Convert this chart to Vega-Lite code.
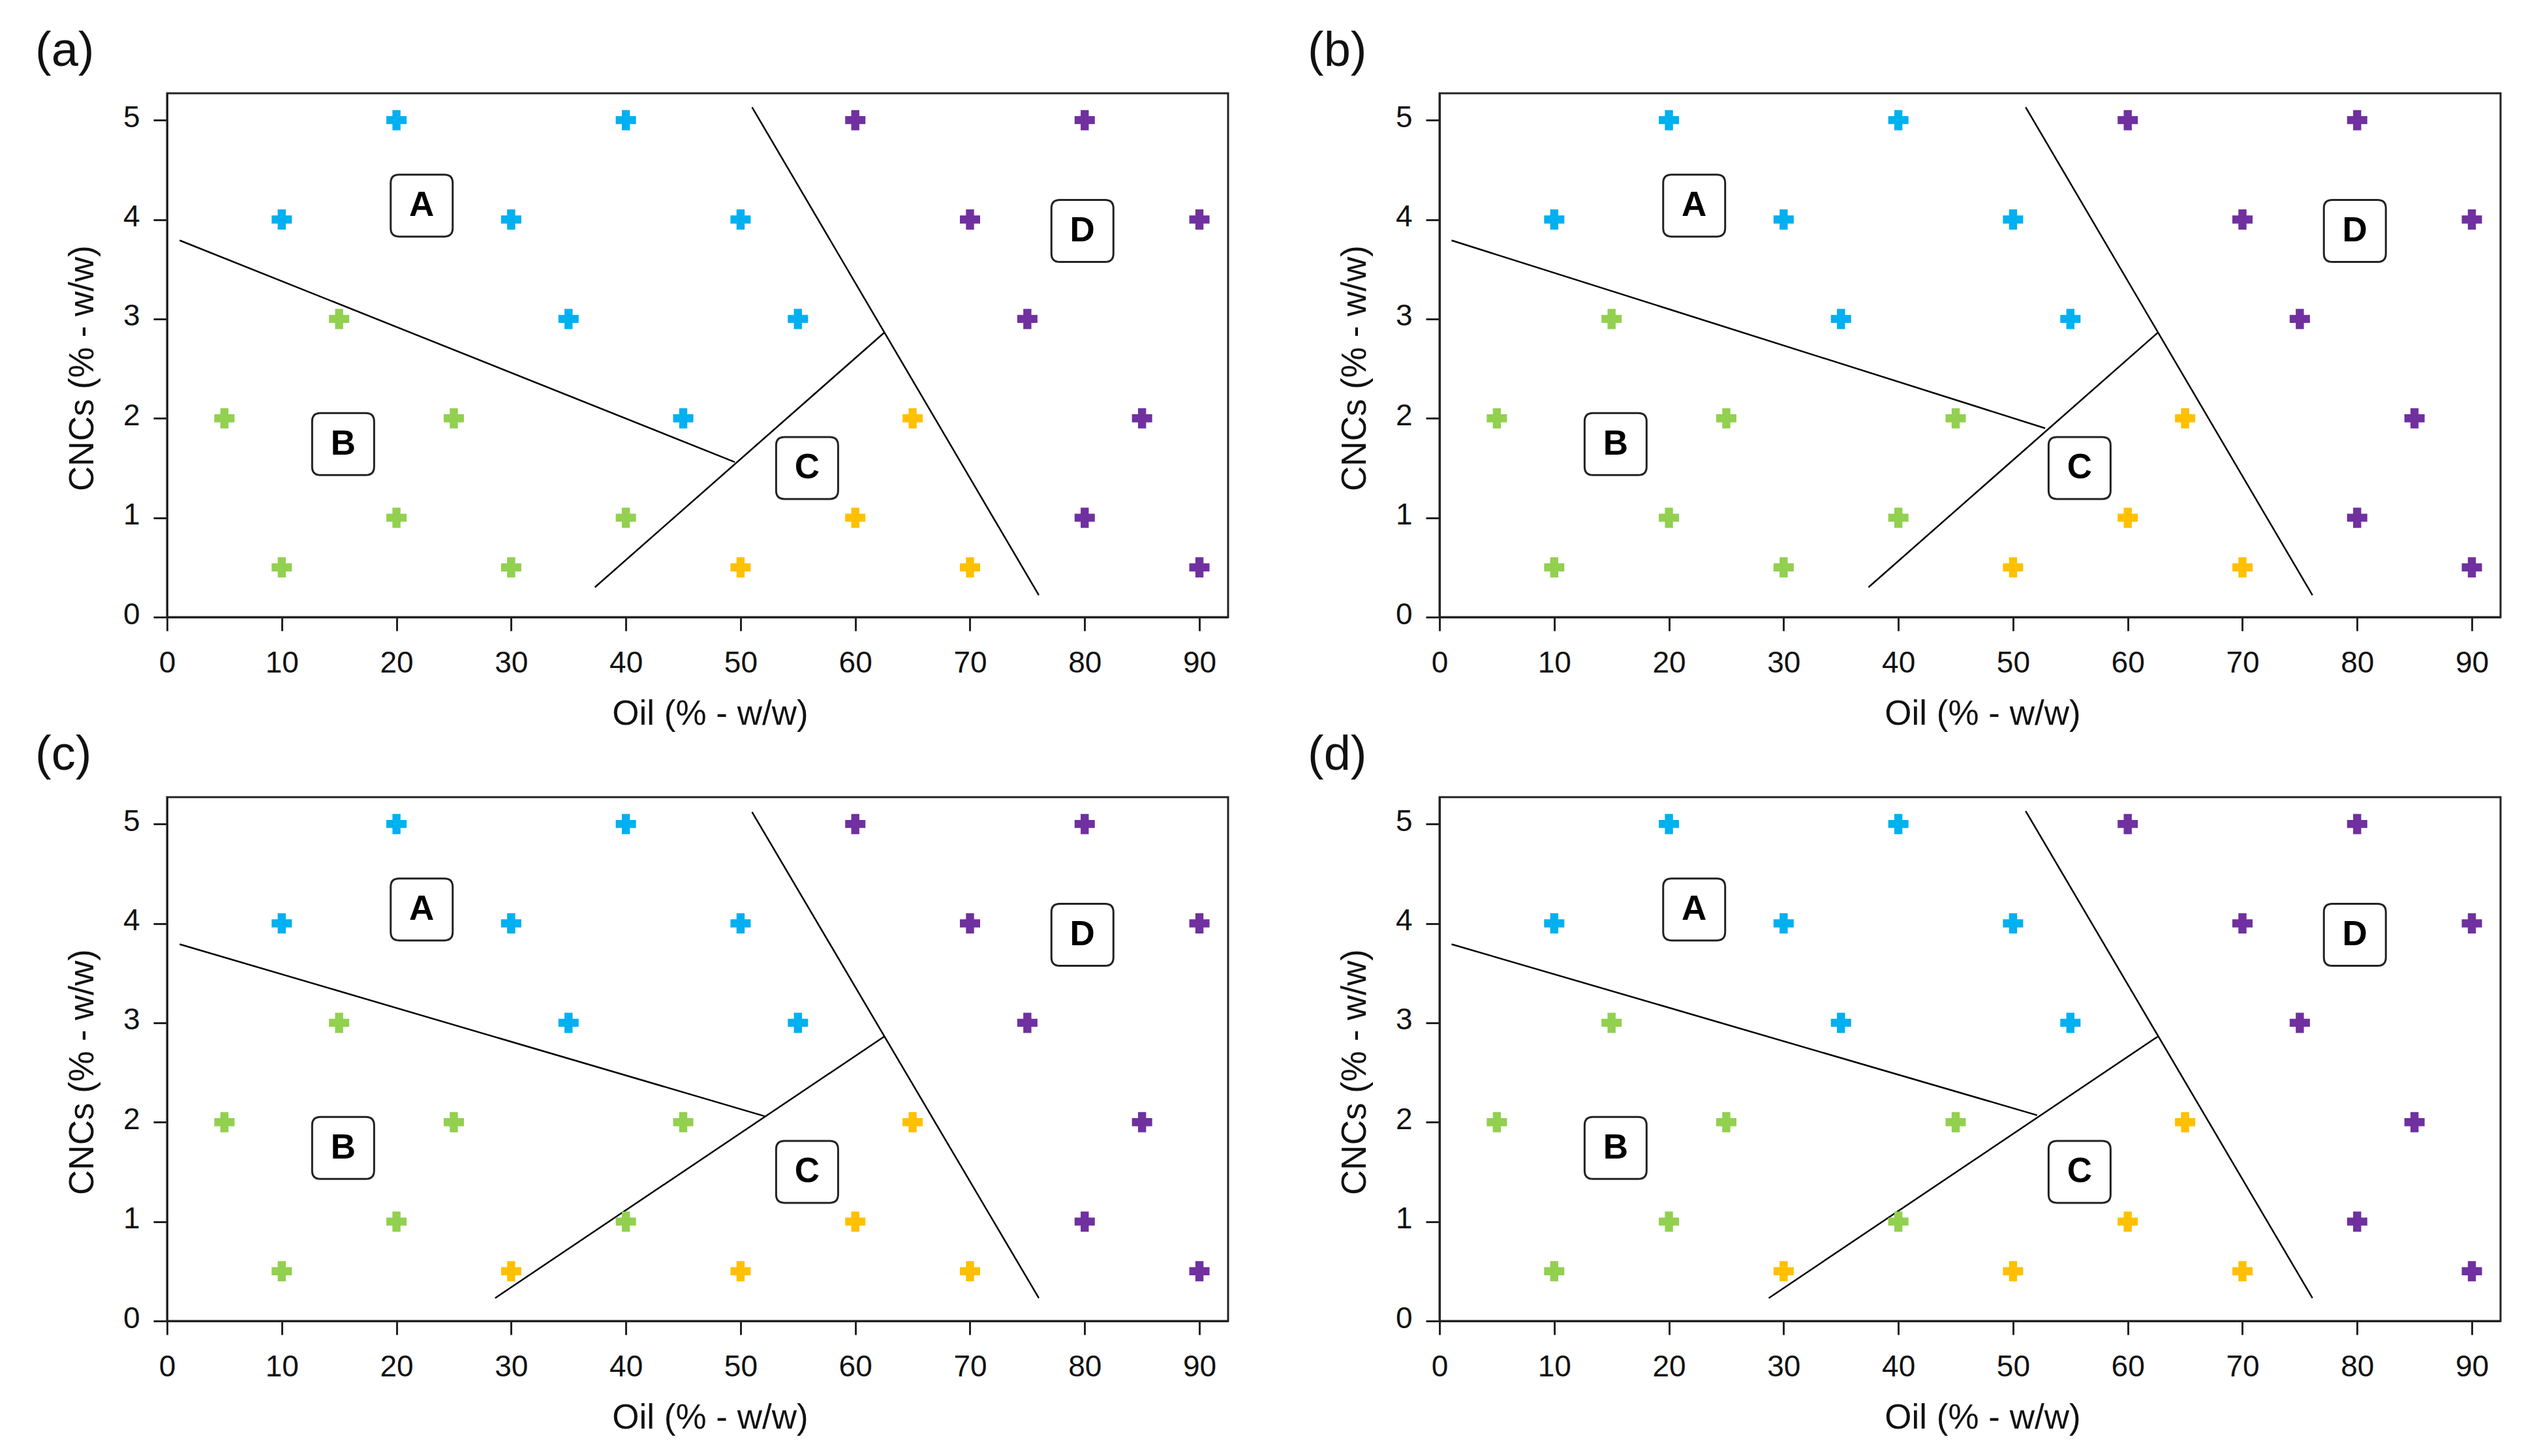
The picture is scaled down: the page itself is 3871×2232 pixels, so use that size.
{
  "$schema": "https://vega.github.io/schema/vega-lite/v6.json",
  "background": "white",
  "padding": {"left": 52, "top": 40, "right": 5, "bottom": 5},
  "datasets": {
    "points": [
      {"panel": "a", "oil": 20, "cnc": 5, "region": "A"},
      {"panel": "a", "oil": 40, "cnc": 5, "region": "A"},
      {"panel": "a", "oil": 10, "cnc": 4, "region": "A"},
      {"panel": "a", "oil": 30, "cnc": 4, "region": "A"},
      {"panel": "a", "oil": 50, "cnc": 4, "region": "A"},
      {"panel": "a", "oil": 35, "cnc": 3, "region": "A"},
      {"panel": "a", "oil": 55, "cnc": 3, "region": "A"},
      {"panel": "a", "oil": 45, "cnc": 2, "region": "A"},
      {"panel": "a", "oil": 15, "cnc": 3, "region": "B"},
      {"panel": "a", "oil": 5, "cnc": 2, "region": "B"},
      {"panel": "a", "oil": 25, "cnc": 2, "region": "B"},
      {"panel": "a", "oil": 20, "cnc": 1, "region": "B"},
      {"panel": "a", "oil": 40, "cnc": 1, "region": "B"},
      {"panel": "a", "oil": 10, "cnc": 0.5, "region": "B"},
      {"panel": "a", "oil": 30, "cnc": 0.5, "region": "B"},
      {"panel": "a", "oil": 65, "cnc": 2, "region": "C"},
      {"panel": "a", "oil": 60, "cnc": 1, "region": "C"},
      {"panel": "a", "oil": 50, "cnc": 0.5, "region": "C"},
      {"panel": "a", "oil": 70, "cnc": 0.5, "region": "C"},
      {"panel": "a", "oil": 60, "cnc": 5, "region": "D"},
      {"panel": "a", "oil": 80, "cnc": 5, "region": "D"},
      {"panel": "a", "oil": 70, "cnc": 4, "region": "D"},
      {"panel": "a", "oil": 90, "cnc": 4, "region": "D"},
      {"panel": "a", "oil": 75, "cnc": 3, "region": "D"},
      {"panel": "a", "oil": 85, "cnc": 2, "region": "D"},
      {"panel": "a", "oil": 80, "cnc": 1, "region": "D"},
      {"panel": "a", "oil": 90, "cnc": 0.5, "region": "D"},

      {"panel": "b", "oil": 20, "cnc": 5, "region": "A"},
      {"panel": "b", "oil": 40, "cnc": 5, "region": "A"},
      {"panel": "b", "oil": 10, "cnc": 4, "region": "A"},
      {"panel": "b", "oil": 30, "cnc": 4, "region": "A"},
      {"panel": "b", "oil": 50, "cnc": 4, "region": "A"},
      {"panel": "b", "oil": 35, "cnc": 3, "region": "A"},
      {"panel": "b", "oil": 55, "cnc": 3, "region": "A"},
      {"panel": "b", "oil": 45, "cnc": 2, "region": "B"},
      {"panel": "b", "oil": 15, "cnc": 3, "region": "B"},
      {"panel": "b", "oil": 5, "cnc": 2, "region": "B"},
      {"panel": "b", "oil": 25, "cnc": 2, "region": "B"},
      {"panel": "b", "oil": 20, "cnc": 1, "region": "B"},
      {"panel": "b", "oil": 40, "cnc": 1, "region": "B"},
      {"panel": "b", "oil": 10, "cnc": 0.5, "region": "B"},
      {"panel": "b", "oil": 30, "cnc": 0.5, "region": "B"},
      {"panel": "b", "oil": 65, "cnc": 2, "region": "C"},
      {"panel": "b", "oil": 60, "cnc": 1, "region": "C"},
      {"panel": "b", "oil": 50, "cnc": 0.5, "region": "C"},
      {"panel": "b", "oil": 70, "cnc": 0.5, "region": "C"},
      {"panel": "b", "oil": 60, "cnc": 5, "region": "D"},
      {"panel": "b", "oil": 80, "cnc": 5, "region": "D"},
      {"panel": "b", "oil": 70, "cnc": 4, "region": "D"},
      {"panel": "b", "oil": 90, "cnc": 4, "region": "D"},
      {"panel": "b", "oil": 75, "cnc": 3, "region": "D"},
      {"panel": "b", "oil": 85, "cnc": 2, "region": "D"},
      {"panel": "b", "oil": 80, "cnc": 1, "region": "D"},
      {"panel": "b", "oil": 90, "cnc": 0.5, "region": "D"},

      {"panel": "c", "oil": 20, "cnc": 5, "region": "A"},
      {"panel": "c", "oil": 40, "cnc": 5, "region": "A"},
      {"panel": "c", "oil": 10, "cnc": 4, "region": "A"},
      {"panel": "c", "oil": 30, "cnc": 4, "region": "A"},
      {"panel": "c", "oil": 50, "cnc": 4, "region": "A"},
      {"panel": "c", "oil": 35, "cnc": 3, "region": "A"},
      {"panel": "c", "oil": 55, "cnc": 3, "region": "A"},
      {"panel": "c", "oil": 45, "cnc": 2, "region": "B"},
      {"panel": "c", "oil": 15, "cnc": 3, "region": "B"},
      {"panel": "c", "oil": 5, "cnc": 2, "region": "B"},
      {"panel": "c", "oil": 25, "cnc": 2, "region": "B"},
      {"panel": "c", "oil": 20, "cnc": 1, "region": "B"},
      {"panel": "c", "oil": 40, "cnc": 1, "region": "B"},
      {"panel": "c", "oil": 10, "cnc": 0.5, "region": "B"},
      {"panel": "c", "oil": 30, "cnc": 0.5, "region": "C"},
      {"panel": "c", "oil": 65, "cnc": 2, "region": "C"},
      {"panel": "c", "oil": 60, "cnc": 1, "region": "C"},
      {"panel": "c", "oil": 50, "cnc": 0.5, "region": "C"},
      {"panel": "c", "oil": 70, "cnc": 0.5, "region": "C"},
      {"panel": "c", "oil": 60, "cnc": 5, "region": "D"},
      {"panel": "c", "oil": 80, "cnc": 5, "region": "D"},
      {"panel": "c", "oil": 70, "cnc": 4, "region": "D"},
      {"panel": "c", "oil": 90, "cnc": 4, "region": "D"},
      {"panel": "c", "oil": 75, "cnc": 3, "region": "D"},
      {"panel": "c", "oil": 85, "cnc": 2, "region": "D"},
      {"panel": "c", "oil": 80, "cnc": 1, "region": "D"},
      {"panel": "c", "oil": 90, "cnc": 0.5, "region": "D"},

      {"panel": "d", "oil": 20, "cnc": 5, "region": "A"},
      {"panel": "d", "oil": 40, "cnc": 5, "region": "A"},
      {"panel": "d", "oil": 10, "cnc": 4, "region": "A"},
      {"panel": "d", "oil": 30, "cnc": 4, "region": "A"},
      {"panel": "d", "oil": 50, "cnc": 4, "region": "A"},
      {"panel": "d", "oil": 35, "cnc": 3, "region": "A"},
      {"panel": "d", "oil": 55, "cnc": 3, "region": "A"},
      {"panel": "d", "oil": 45, "cnc": 2, "region": "B"},
      {"panel": "d", "oil": 15, "cnc": 3, "region": "B"},
      {"panel": "d", "oil": 5, "cnc": 2, "region": "B"},
      {"panel": "d", "oil": 25, "cnc": 2, "region": "B"},
      {"panel": "d", "oil": 20, "cnc": 1, "region": "B"},
      {"panel": "d", "oil": 40, "cnc": 1, "region": "B"},
      {"panel": "d", "oil": 10, "cnc": 0.5, "region": "B"},
      {"panel": "d", "oil": 30, "cnc": 0.5, "region": "C"},
      {"panel": "d", "oil": 65, "cnc": 2, "region": "C"},
      {"panel": "d", "oil": 60, "cnc": 1, "region": "C"},
      {"panel": "d", "oil": 50, "cnc": 0.5, "region": "C"},
      {"panel": "d", "oil": 70, "cnc": 0.5, "region": "C"},
      {"panel": "d", "oil": 60, "cnc": 5, "region": "D"},
      {"panel": "d", "oil": 80, "cnc": 5, "region": "D"},
      {"panel": "d", "oil": 70, "cnc": 4, "region": "D"},
      {"panel": "d", "oil": 90, "cnc": 4, "region": "D"},
      {"panel": "d", "oil": 75, "cnc": 3, "region": "D"},
      {"panel": "d", "oil": 85, "cnc": 2, "region": "D"},
      {"panel": "d", "oil": 80, "cnc": 1, "region": "D"},
      {"panel": "d", "oil": 90, "cnc": 0.5, "region": "D"}
    ],
    "lines": [
      {"panel": "a", "seg": 1, "oil": 1.1, "cnc": 3.79},
      {"panel": "a", "seg": 1, "oil": 49.5, "cnc": 1.56},
      {"panel": "a", "seg": 2, "oil": 37.3, "cnc": 0.3},
      {"panel": "a", "seg": 2, "oil": 62.5, "cnc": 2.86},
      {"panel": "a", "seg": 3, "oil": 51.0, "cnc": 5.13},
      {"panel": "a", "seg": 3, "oil": 76.0, "cnc": 0.22},
      {"panel": "b", "seg": 1, "oil": 1.05, "cnc": 3.79},
      {"panel": "b", "seg": 1, "oil": 52.8, "cnc": 1.9},
      {"panel": "b", "seg": 2, "oil": 37.4, "cnc": 0.3},
      {"panel": "b", "seg": 2, "oil": 62.6, "cnc": 2.86},
      {"panel": "b", "seg": 3, "oil": 51.1, "cnc": 5.13},
      {"panel": "b", "seg": 3, "oil": 76.1, "cnc": 0.22},
      {"panel": "c", "seg": 1, "oil": 1.1, "cnc": 3.79},
      {"panel": "c", "seg": 1, "oil": 52.1, "cnc": 2.06},
      {"panel": "c", "seg": 2, "oil": 28.6, "cnc": 0.23},
      {"panel": "c", "seg": 2, "oil": 62.5, "cnc": 2.86},
      {"panel": "c", "seg": 3, "oil": 51.0, "cnc": 5.12},
      {"panel": "c", "seg": 3, "oil": 76.0, "cnc": 0.23},
      {"panel": "d", "seg": 1, "oil": 1.05, "cnc": 3.79},
      {"panel": "d", "seg": 1, "oil": 52.1, "cnc": 2.07},
      {"panel": "d", "seg": 2, "oil": 28.7, "cnc": 0.23},
      {"panel": "d", "seg": 2, "oil": 62.6, "cnc": 2.86},
      {"panel": "d", "seg": 3, "oil": 51.1, "cnc": 5.13},
      {"panel": "d", "seg": 3, "oil": 76.1, "cnc": 0.23}
    ],
    "labels": [
      {"label": "A", "oil": 22.2, "cnc": 4.14},
      {"label": "B", "oil": 15.35, "cnc": 1.74},
      {"label": "C", "oil": 55.8, "cnc": 1.5},
      {"label": "D", "oil": 79.8, "cnc": 3.885}
    ]
  },
  "columns": 2,
  "spacing": {"row": 276, "column": 324},
  "bounds": "flush",
  "concat": [
    {
      "title": {"text": "(a)"},
      "width": 1626, "height": 803,
      "encoding": {
        "x": {"field": "oil", "type": "quantitative", "scale": {"domain": [0, 92.5], "nice": false, "zero": false}, "axis": {"title": "Oil (% - w/w)", "values": [0, 10, 20, 30, 40, 50, 60, 70, 80, 90]}},
        "y": {"field": "cnc", "type": "quantitative", "scale": {"domain": [0, 5.27], "nice": false, "zero": false}, "axis": {"title": "CNCs (% - w/w)", "values": [0, 1, 2, 3, 4, 5]}}
      },
      "layer": [
        {"data": {"name": "lines"}, "transform": [{"filter": "datum.panel === 'a'"}], "mark": {"type": "line", "color": "black", "strokeWidth": 2.5}, "encoding": {"detail": {"field": "seg"}}},
        {"data": {"name": "points"}, "transform": [{"filter": "datum.panel === 'a'"}], "mark": {"type": "point", "shape": "cross", "filled": true, "size": 961, "opacity": 1}, "encoding": {"color": {"field": "region", "type": "nominal", "scale": {"domain": ["A", "B", "C", "D"], "range": ["#00B0F0", "#92D050", "#FFC000", "#7030A0"]}, "legend": null}}},
        {"data": {"name": "labels"}, "mark": {"type": "point", "shape": "M -0.73,-1 L 0.73,-1 Q 1,-1 1,-0.73 L 1,0.73 Q 1,1 0.73,1 L -0.73,1 Q -1,1 -1,0.73 L -1,-0.73 Q -1,-1 -0.73,-1 Z", "size": 9025, "filled": true, "fill": "white", "stroke": "#222", "strokeWidth": 3, "opacity": 1}},
        {"data": {"name": "labels"}, "mark": {"type": "text", "font": "Liberation Sans", "fontWeight": "bold", "fontSize": 53, "baseline": "middle", "align": "center", "color": "black"}, "encoding": {"text": {"field": "label"}}}
      ]
    },
    {
      "title": {"text": "(b)"},
      "width": 1626, "height": 803,
      "encoding": {
        "x": {"field": "oil", "type": "quantitative", "scale": {"domain": [0, 92.5], "nice": false, "zero": false}, "axis": {"title": "Oil (% - w/w)", "values": [0, 10, 20, 30, 40, 50, 60, 70, 80, 90]}},
        "y": {"field": "cnc", "type": "quantitative", "scale": {"domain": [0, 5.27], "nice": false, "zero": false}, "axis": {"title": "CNCs (% - w/w)", "values": [0, 1, 2, 3, 4, 5]}}
      },
      "layer": [
        {"data": {"name": "lines"}, "transform": [{"filter": "datum.panel === 'b'"}], "mark": {"type": "line", "color": "black", "strokeWidth": 2.5}, "encoding": {"detail": {"field": "seg"}}},
        {"data": {"name": "points"}, "transform": [{"filter": "datum.panel === 'b'"}], "mark": {"type": "point", "shape": "cross", "filled": true, "size": 961, "opacity": 1}, "encoding": {"color": {"field": "region", "type": "nominal", "scale": {"domain": ["A", "B", "C", "D"], "range": ["#00B0F0", "#92D050", "#FFC000", "#7030A0"]}, "legend": null}}},
        {"data": {"name": "labels"}, "mark": {"type": "point", "shape": "M -0.73,-1 L 0.73,-1 Q 1,-1 1,-0.73 L 1,0.73 Q 1,1 0.73,1 L -0.73,1 Q -1,1 -1,0.73 L -1,-0.73 Q -1,-1 -0.73,-1 Z", "size": 9025, "filled": true, "fill": "white", "stroke": "#222", "strokeWidth": 3, "opacity": 1}},
        {"data": {"name": "labels"}, "mark": {"type": "text", "font": "Liberation Sans", "fontWeight": "bold", "fontSize": 53, "baseline": "middle", "align": "center", "color": "black"}, "encoding": {"text": {"field": "label"}}}
      ]
    },
    {
      "title": {"text": "(c)"},
      "width": 1626, "height": 803,
      "encoding": {
        "x": {"field": "oil", "type": "quantitative", "scale": {"domain": [0, 92.5], "nice": false, "zero": false}, "axis": {"title": "Oil (% - w/w)", "values": [0, 10, 20, 30, 40, 50, 60, 70, 80, 90]}},
        "y": {"field": "cnc", "type": "quantitative", "scale": {"domain": [0, 5.27], "nice": false, "zero": false}, "axis": {"title": "CNCs (% - w/w)", "values": [0, 1, 2, 3, 4, 5]}}
      },
      "layer": [
        {"data": {"name": "lines"}, "transform": [{"filter": "datum.panel === 'c'"}], "mark": {"type": "line", "color": "black", "strokeWidth": 2.5}, "encoding": {"detail": {"field": "seg"}}},
        {"data": {"name": "points"}, "transform": [{"filter": "datum.panel === 'c'"}], "mark": {"type": "point", "shape": "cross", "filled": true, "size": 961, "opacity": 1}, "encoding": {"color": {"field": "region", "type": "nominal", "scale": {"domain": ["A", "B", "C", "D"], "range": ["#00B0F0", "#92D050", "#FFC000", "#7030A0"]}, "legend": null}}},
        {"data": {"name": "labels"}, "mark": {"type": "point", "shape": "M -0.73,-1 L 0.73,-1 Q 1,-1 1,-0.73 L 1,0.73 Q 1,1 0.73,1 L -0.73,1 Q -1,1 -1,0.73 L -1,-0.73 Q -1,-1 -0.73,-1 Z", "size": 9025, "filled": true, "fill": "white", "stroke": "#222", "strokeWidth": 3, "opacity": 1}},
        {"data": {"name": "labels"}, "mark": {"type": "text", "font": "Liberation Sans", "fontWeight": "bold", "fontSize": 53, "baseline": "middle", "align": "center", "color": "black"}, "encoding": {"text": {"field": "label"}}}
      ]
    },
    {
      "title": {"text": "(d)"},
      "width": 1626, "height": 803,
      "encoding": {
        "x": {"field": "oil", "type": "quantitative", "scale": {"domain": [0, 92.5], "nice": false, "zero": false}, "axis": {"title": "Oil (% - w/w)", "values": [0, 10, 20, 30, 40, 50, 60, 70, 80, 90]}},
        "y": {"field": "cnc", "type": "quantitative", "scale": {"domain": [0, 5.27], "nice": false, "zero": false}, "axis": {"title": "CNCs (% - w/w)", "values": [0, 1, 2, 3, 4, 5]}}
      },
      "layer": [
        {"data": {"name": "lines"}, "transform": [{"filter": "datum.panel === 'd'"}], "mark": {"type": "line", "color": "black", "strokeWidth": 2.5}, "encoding": {"detail": {"field": "seg"}}},
        {"data": {"name": "points"}, "transform": [{"filter": "datum.panel === 'd'"}], "mark": {"type": "point", "shape": "cross", "filled": true, "size": 961, "opacity": 1}, "encoding": {"color": {"field": "region", "type": "nominal", "scale": {"domain": ["A", "B", "C", "D"], "range": ["#00B0F0", "#92D050", "#FFC000", "#7030A0"]}, "legend": null}}},
        {"data": {"name": "labels"}, "mark": {"type": "point", "shape": "M -0.73,-1 L 0.73,-1 Q 1,-1 1,-0.73 L 1,0.73 Q 1,1 0.73,1 L -0.73,1 Q -1,1 -1,0.73 L -1,-0.73 Q -1,-1 -0.73,-1 Z", "size": 9025, "filled": true, "fill": "white", "stroke": "#222", "strokeWidth": 3, "opacity": 1}},
        {"data": {"name": "labels"}, "mark": {"type": "text", "font": "Liberation Sans", "fontWeight": "bold", "fontSize": 53, "baseline": "middle", "align": "center", "color": "black"}, "encoding": {"text": {"field": "label"}}}
      ]
    }
  ],
  "config": {
    "view": {"stroke": "#222", "strokeWidth": 3},
    "title": {"anchor": "start", "frame": "group", "font": "Liberation Sans", "fontSize": 74, "fontWeight": "normal", "color": "#111", "dx": -202, "baseline": "alphabetic", "offset": 26},
    "axis": {"grid": false, "domainColor": "#222", "domainWidth": 3, "tickColor": "#222", "tickWidth": 3, "tickSize": 21, "labelFont": "Liberation Sans", "labelFontSize": 46, "labelColor": "#111", "labelFlush": false, "labelOverlap": false, "titleFont": "Liberation Sans", "titleFontSize": 53, "titleFontWeight": "normal", "titleColor": "#111"},
    "axisX": {"labelPadding": 27, "titleX": 832, "titleY": 164, "titleBaseline": "alphabetic", "titleAlign": "center"},
    "axisY": {"labelPadding": 21, "labelOffset": -4, "titleX": -114, "titleY": 421, "titleBaseline": "alphabetic", "titleAngle": -90, "titleAlign": "center"}
  }
}
